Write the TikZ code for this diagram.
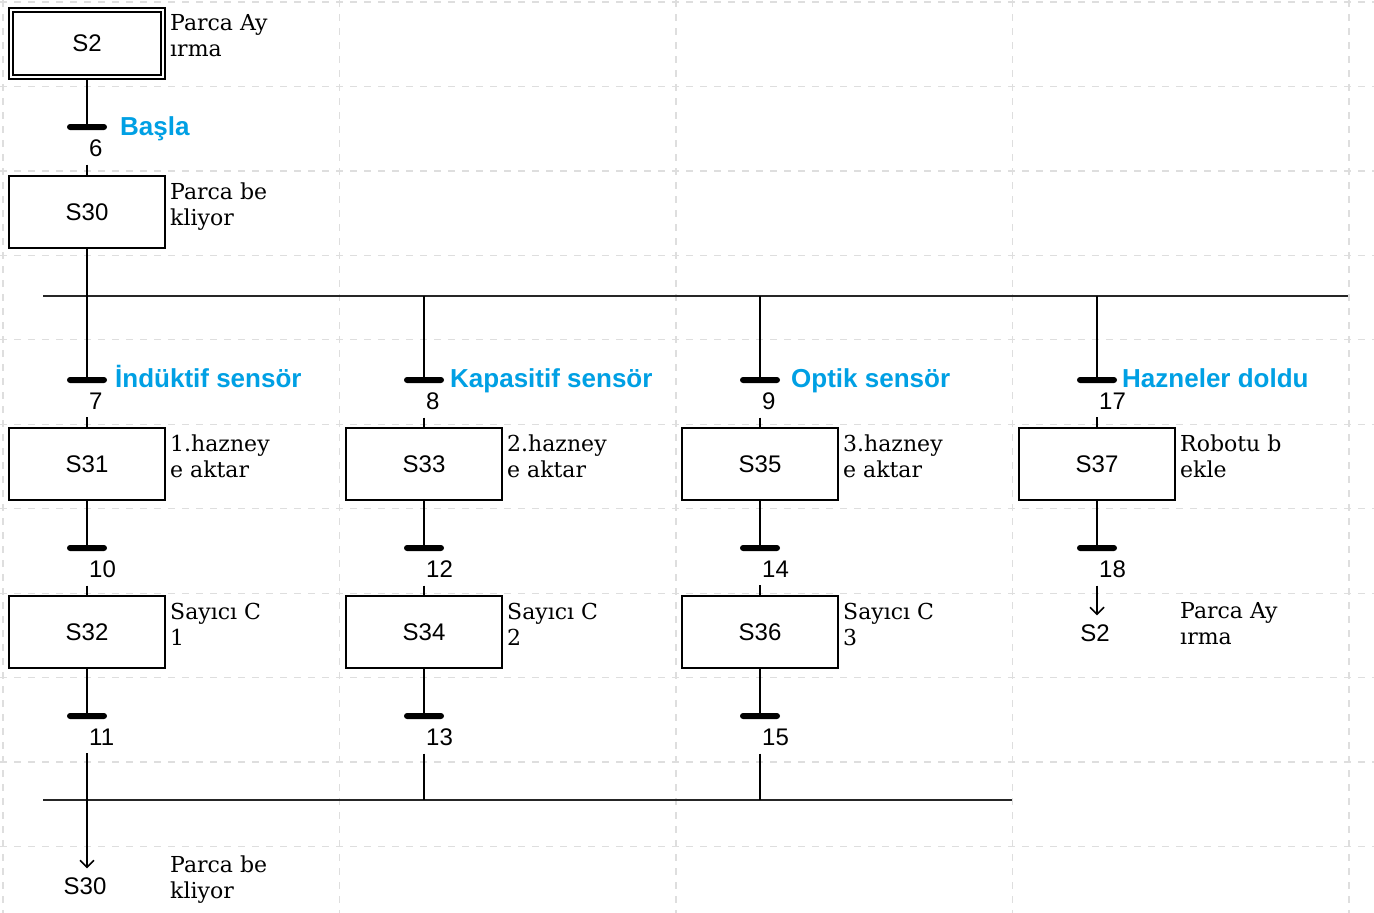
\documentclass[tikz,border=0pt]{standalone}
\usepackage{fontspec}
\setsansfont{Liberation Sans}
\newfontfamily\actfont{DejaVu Serif}
\usetikzlibrary{arrows.meta}
\definecolor{lbl}{RGB}{0,160,228}
\definecolor{gridc}{RGB}{222,222,222}
\tikzset{
  stepbox/.style={draw, line width=2pt, fill=white, minimum width=156pt, minimum height=72pt, inner sep=0pt, font=\sffamily\fontsize{24}{28}\selectfont},
  initbox/.style={stepbox, double, line width=1.5pt, double distance=2.5pt, minimum width=152pt, minimum height=67pt},
  tbar/.style={fill=black, rectangle, rounded corners=3pt, minimum width=40pt, minimum height=6pt, inner sep=0pt},
  tnum/.style={anchor=west, inner xsep=0pt, inner ysep=8pt, font=\sffamily\fontsize{24}{28}\selectfont},
  cond/.style={anchor=base west, inner sep=0pt, text=lbl, font=\sffamily\bfseries\fontsize{26}{30}\selectfont},
  act/.style={anchor=base west, inner sep=0pt, font=\actfont\fontsize{22}{26}\selectfont},
  jumpt/.style={inner xsep=0pt, inner ysep=9pt, font=\sffamily\fontsize{24}{28}\selectfont},
  link/.style={line width=2pt},
  bus/.style={line width=2pt, draw=black!85},
  jarrow/.style={line width=1.8pt, -{Straight Barb[length=7pt,width=14pt,line width=1.5pt]}},
  gridline/.style={draw=gridc, line width=1.3pt, dash pattern=on 7pt off 7pt},
}
\newcommand{\acttext}[2]{\begin{tabular}[t]{@{}l@{}}#1\\#2\end{tabular}}
\begin{document}
\begin{tikzpicture}[x=1pt,y=-1pt]
\useasboundingbox (0,0) rectangle (1374,913);
\fill[white] (0,0) rectangle (1374,913);
% background grid
\foreach \gx in {3,339.5,676,1012.5,1349} \draw[gridline] (\gx,0) -- (\gx,913);
\foreach \k in {0,...,10} \draw[gridline] (0,{2+84.45*\k}) -- (1374,{2+84.45*\k});

% initial step and first transition
\node[initbox] (S2) at (87,43.5) {S2};
\node[act] (aS2) at (170,30) {\acttext{Parca Ay}{ırma}};
\node[tbar] (t6) at (87,127) {};
\node[tnum] (n6) at (89,148) {6};
\node[cond] (c6) at (120,135) {Başla};
\node[stepbox] (S30) at (87,212) {S30};
\node[act] (aS30) at (170,199) {\acttext{Parca be}{kliyor}};
\draw[link] (S2.south) -- (t6.north);
\draw[link] (S30.north |- n6.south) -- (S30.north);

% divergence
\coordinate (divL) at (43,296);
\coordinate (divR) at (1348,296);
\draw[bus] (divL) -- (divR);

% transitions after divergence
\node[tbar] (t7) at (87,380) {};
\node[tbar] (t8) at (424,380) {};
\node[tbar] (t9) at (760,380) {};
\node[tbar] (t17) at (1097,380) {};
\node[tnum] (n7) at (89,401) {7};
\node[tnum] (n8) at (426,401) {8};
\node[tnum] (n9) at (762,401) {9};
\node[tnum] (n17) at (1099,401) {17};
\node[cond] (c7) at (115,387) {İndüktif sensör};
\node[cond] (c8) at (450,387) {Kapasitif sensör};
\node[cond] (c9) at (791,387) {Optik sensör};
\node[cond] (c17) at (1122,387) {Hazneler doldu};
\draw[link] (S30.south) -- (t7.north);
\draw[link] (t8 |- divL) -- (t8.north);
\draw[link] (t9 |- divL) -- (t9.north);
\draw[link] (t17 |- divL) -- (t17.north);

% second row of steps
\node[stepbox] (S31) at (87,464) {S31};
\node[stepbox] (S33) at (424,464) {S33};
\node[stepbox] (S35) at (760,464) {S35};
\node[stepbox] (S37) at (1097,464) {S37};
\node[act] (aS31) at (170,451) {\acttext{1.hazney}{e aktar}};
\node[act] (aS33) at (507,451) {\acttext{2.hazney}{e aktar}};
\node[act] (aS35) at (843,451) {\acttext{3.hazney}{e aktar}};
\node[act] (aS37) at (1180,451) {\acttext{Robotu b}{ekle}};
\draw[link] (S31.north |- n7.south) -- (S31.north);
\draw[link] (S33.north |- n8.south) -- (S33.north);
\draw[link] (S35.north |- n9.south) -- (S35.north);
\draw[link] (S37.north |- n17.south) -- (S37.north);

% transitions
\node[tbar] (t10) at (87,548) {};
\node[tbar] (t12) at (424,548) {};
\node[tbar] (t14) at (760,548) {};
\node[tbar] (t18) at (1097,548) {};
\node[tnum] (n10) at (89,569) {10};
\node[tnum] (n12) at (426,569) {12};
\node[tnum] (n14) at (762,569) {14};
\node[tnum] (n18) at (1099,569) {18};
\draw[link] (S31.south) -- (t10.north);
\draw[link] (S33.south) -- (t12.north);
\draw[link] (S35.south) -- (t14.north);
\draw[link] (S37.south) -- (t18.north);

% third row of steps
\node[stepbox] (S32) at (87,632) {S32};
\node[stepbox] (S34) at (424,632) {S34};
\node[stepbox] (S36) at (760,632) {S36};
\node[act] (aS32) at (170,619) {\acttext{Sayıcı C}{1}};
\node[act] (aS34) at (507,619) {\acttext{Sayıcı C}{2}};
\node[act] (aS36) at (843,619) {\acttext{Sayıcı C}{3}};
\draw[link] (S32.north |- n10.south) -- (S32.north);
\draw[link] (S34.north |- n12.south) -- (S34.north);
\draw[link] (S36.north |- n14.south) -- (S36.north);

% jump to S2
\node[jumpt] (jS2) at (1095,633) {S2};
\node[act] (ajS2) at (1180,618) {\acttext{Parca Ay}{ırma}};
\draw[jarrow] (t18 |- n18.south) -- (t18 |- jS2.north);

% last transitions
\node[tbar] (t11) at (87,716) {};
\node[tbar] (t13) at (424,716) {};
\node[tbar] (t15) at (760,716) {};
\node[tnum] (n11) at (89,737) {11};
\node[tnum] (n13) at (426,737) {13};
\node[tnum] (n15) at (762,737) {15};
\draw[link] (S32.south) -- (t11.north);
\draw[link] (S34.south) -- (t13.north);
\draw[link] (S36.south) -- (t15.north);

% convergence
\coordinate (convL) at (43,800);
\coordinate (convR) at (1012,800);
\draw[bus] (convL) -- (convR);
\draw[link] (t13 |- n13.south) -- (t13 |- convL);
\draw[link] (t15 |- n15.south) -- (t15 |- convL);

% jump to S30
\node[jumpt] (j30) at (85,886) {S30};
\node[act] (aj30) at (170,872) {\acttext{Parca be}{kliyor}};
\draw[jarrow] (t11 |- n11.south) -- (t11 |- j30.north);
\end{tikzpicture}
\end{document}
